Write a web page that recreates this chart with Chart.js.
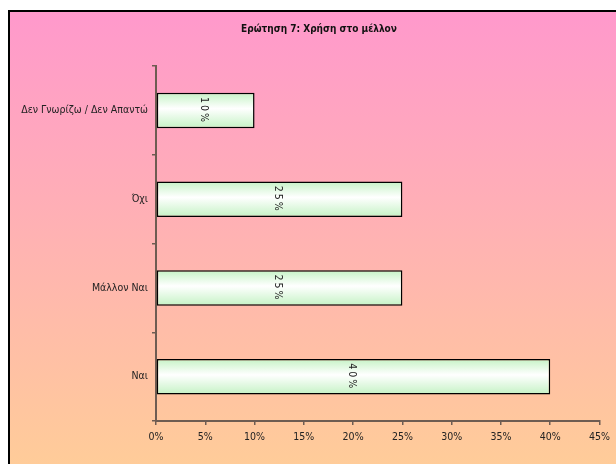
<!DOCTYPE html>
<html>
<head>
<meta charset="utf-8">
<script src="https://cdn.jsdelivr.net/npm/chart.js@4/dist/chart.umd.min.js"></script>
<style>
  html, body { margin: 0; padding: 0; background: #fff; }
  canvas { display: block; }
</style>
</head>
<body>
<canvas id="chart" width="616" height="464"></canvas>
<script>
var categories = ['Δεν Γνωρίζω / Δεν Απαντώ', 'Όχι', 'Μάλλον Ναι', 'Ναι'];
var values = [10, 25, 25, 40];
var xTicks = [0, 5, 10, 15, 20, 25, 30, 35, 40, 45];

var FONT = "'DejaVu Sans Condensed', 'Liberation Sans', sans-serif";
var AXIS = '#6e5c52';

// pink-to-peach panel with the black frame edges
var panelBg = {
  id: 'panelBg',
  afterLayout: function(chart) {
    // the title sits centred on the framed panel, not on the whole canvas
    if (chart.titleBlock) chart.titleBlock.left += 32;
  },
  beforeDraw: function(chart) {
    var ctx = chart.ctx;
    ctx.save();
    ctx.fillStyle = '#fff';
    ctx.fillRect(0, 0, chart.width, chart.height);
    var g = ctx.createLinearGradient(0, 12, 0, chart.height);
    g.addColorStop(0, '#ff99cc');
    g.addColorStop(1, '#ffcc99');
    ctx.fillStyle = g;
    ctx.fillRect(10, 12, chart.width - 10, chart.height - 12);
    ctx.strokeStyle = '#000';
    ctx.lineWidth = 2;
    ctx.beginPath();
    ctx.moveTo(9, chart.height);
    ctx.lineTo(9, 11);
    ctx.lineTo(chart.width, 11);
    ctx.stroke();
    ctx.restore();
  }
};

// rotated value labels in the middle of each bar
var barLabels = {
  id: 'barLabels',
  afterDatasetsDraw: function(chart) {
    var ctx = chart.ctx;
    var meta = chart.getDatasetMeta(0);
    ctx.save();
    ctx.font = '10.5px ' + FONT;
    ctx.fillStyle = '#222';
    ctx.textAlign = 'center';
    ctx.textBaseline = 'middle';
    if ('letterSpacing' in ctx) ctx.letterSpacing = '2px';
    meta.data.forEach(function(bar, i) {
      var cx = (bar.base + bar.x) / 2 - 2;
      ctx.save();
      ctx.translate(cx, bar.y);
      ctx.rotate(Math.PI / 2);
      ctx.fillText(values[i] + '%', 0, 0);
      ctx.restore();
    });
    ctx.restore();
  }
};

function barFill(context) {
  var chart = context.chart;
  var y = chart.scales.y;
  if (!y || !chart.chartArea) return '#e6ffe6';
  var cy = y.getPixelForValue(context.dataIndex);
  var h = 18;
  var g = chart.ctx.createLinearGradient(0, cy - h, 0, cy + h);
  g.addColorStop(0, '#c4f2c4');
  g.addColorStop(0.45, '#ffffff');
  g.addColorStop(1, '#c4f2c4');
  return g;
}

new Chart(document.getElementById('chart').getContext('2d'), {
  type: 'bar',
  data: {
    labels: categories,
    datasets: [{
      data: values,
      backgroundColor: barFill,
      borderColor: '#000',
      borderWidth: 1.5,
      borderSkipped: false,
      barPercentage: 0.4,
      categoryPercentage: 1
    }]
  },
  options: {
    indexAxis: 'y',
    responsive: false,
    animation: false,
    layout: { padding: { left: 0, right: 10, top: 0, bottom: 0 } },
    plugins: {
      legend: { display: false },
      tooltip: { enabled: false },
      title: {
        display: true,
        text: 'Ερώτηση 7: Χρήση στο μέλλον',
        color: '#111',
        font: { family: FONT, size: 10, weight: 'bold' },
        padding: { top: 23, bottom: 31 }
      }
    },
    scales: {
      x: {
        min: 0,
        max: 45,
        afterBuildTicks: function(scale) {
          scale.ticks = xTicks.map(function(v) { return { value: v }; });
        },
        afterFit: function(scale) { scale.height = 43; },
        border: { display: true, color: AXIS, width: 2 },
        grid: { drawOnChartArea: false, drawTicks: true, tickLength: 4, color: AXIS, lineWidth: 1.5 },
        ticks: {
          color: '#222',
          padding: 6,
          maxRotation: 0,
          font: { family: FONT, size: 10.5 },
          callback: function(v) { return v + '%'; }
        }
      },
      y: {
        afterFit: function(scale) { scale.width = 156; },
        border: { display: true, color: AXIS, width: 2 },
        grid: { offset: true, drawOnChartArea: false, drawTicks: true, tickLength: 4, color: AXIS, lineWidth: 1.5 },
        ticks: {
          color: '#222',
          padding: 4,
          font: { family: FONT, size: 10.5 }
        }
      }
    }
  },
  plugins: [panelBg, barLabels]
});
</script>
</body>
</html>
